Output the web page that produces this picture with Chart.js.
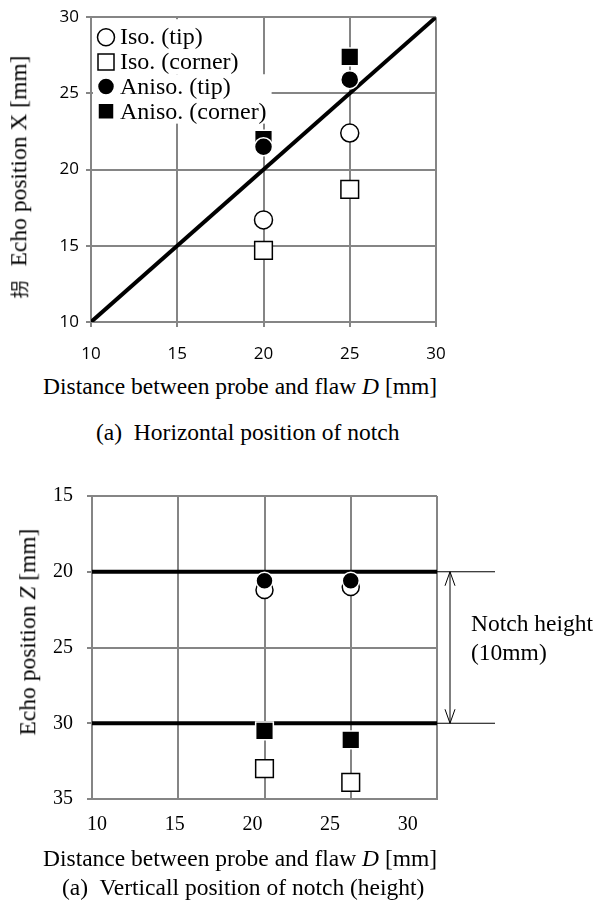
<!DOCTYPE html>
<html>
<head>
<meta charset="utf-8">
<script src="https://cdn.jsdelivr.net/npm/chart.js@4.4.0/dist/chart.umd.min.js"></script>
<style>
  body { margin: 0; background: #fff; }
  #wrap { position: relative; width: 594px; height: 903px; overflow: hidden; background: #fff;
          font-family: "Liberation Serif", "Times New Roman", serif; color: #000; }
  canvas { position: absolute; left: 0; }
  .t { position: absolute; white-space: nowrap; font-size: 23.5px; line-height: 1; }
  .vt { transform: translate(-50%, -50%) rotate(-90deg); }
  .cjk { font-family: "Noto Sans CJK JP", sans-serif; font-size: 18px; margin-right: 14px; }
</style>
</head>
<body>
<div id="wrap">
  <canvas id="c1" width="594" height="370" style="top:0"></canvas>
  <canvas id="c2" width="594" height="380" style="top:470px"></canvas>

  <div class="t vt" style="left:19px;top:177px"><span class="cjk">拐</span>Echo position X [mm]</div>
  <div class="t" style="left:43px;top:375px">Distance between probe and flaw <i>D</i> [mm]</div>
  <div class="t" style="left:96px;top:421px">(a)&nbsp; Horizontal position of notch</div>

  <div class="t vt" style="left:28px;top:632px">Echo position <i>Z</i> [mm]</div>
  <div class="t" style="left:471px;top:612px">Notch height</div>
  <div class="t" style="left:471px;top:641px">(10mm)</div>
  <div class="t" style="left:43px;top:847px">Distance between probe and flaw <i>D</i> [mm]</div>
  <div class="t" style="left:62px;top:876px">(a)&nbsp; Verticall position of notch (height)</div>
</div>

<script>
// ---- data ----
const seriesLabels = ["Iso. (tip)", "Iso. (corner)", "Aniso. (tip)", "Aniso. (corner)"];
const distances = [20, 25];
const xTicks = [10, 15, 20, 25, 30];

// (top) horizontal echo position X
const xIsoTip = [16.7, 22.4];
const xIsoCorner = [14.7, 18.7];
const xAnisoTip = [21.5, 25.9];
const xAnisoCorner = [22.0, 27.4];
const idealLine = [10, 30];          // X = D
const yTicksTop = [10, 15, 20, 25, 30];

// (bottom) vertical echo position Z
const zIsoTip = [21.2, 21.0];
const zIsoCorner = [33.0, 33.9];
const zAnisoTip = [20.6, 20.6];
const zAnisoCorner = [30.5, 31.1];
const notchTop = 20;
const notchBottom = 30;
const yTicksBottom = [15, 20, 25, 30, 35];

const gridColor = "#858585";

function pts(ys) {
  return distances.map((d, i) => ({ x: d, y: ys[i] }));
}

function marker(label, ys, style, fill, edge, r, order) {
  return {
    label: label,
    data: pts(ys),
    pointStyle: style,
    pointRadius: r,
    pointBackgroundColor: fill,
    pointBorderColor: edge,
    pointBorderWidth: 1.5,
    showLine: false,
    inLegend: true,
    order: order
  };
}

function hline(v, ends) {
  return {
    label: "",
    data: ends.map(x => ({ x: x, y: v })),
    showLine: true,
    borderColor: "#000",
    borderWidth: 4,
    pointRadius: 0,
    order: 10
  };
}

const fixedTicks = arr => scale => { scale.ticks = arr.map(v => ({ value: v })); };

// legend drawn inside the plot, top left, on white blocks
const insideLegend = {
  id: "insideLegend",
  afterDraw(chart) {
    const ctx = chart.ctx;
    const a = chart.chartArea;
    const sets = chart.data.datasets.filter(d => d.inLegend);
    const rowH = 24.7;
    const y0 = a.top + 20;
    const mx = a.left + 15;
    const tx = a.left + 29;
    ctx.save();
    ctx.font = '24px "Liberation Serif", serif';
    for (let p = 0; p < sets.length; p += 2) {
      const w = Math.max(...sets.slice(p, p + 2).map(d => ctx.measureText(d.label).width));
      const top = p === 0 ? a.top + 2 : y0 + (p - 0.5) * rowH;
      const bot = y0 + (p + 1.5) * rowH;
      ctx.fillStyle = "#fff";
      ctx.fillRect(a.left + 2, top, tx - a.left + w + 3, bot - top);
    }
    sets.forEach((d, i) => {
      const y = y0 + i * rowH;
      ctx.fillStyle = d.pointBackgroundColor;
      ctx.strokeStyle = d.pointBorderColor;
      ctx.lineWidth = 1.5;
      ctx.beginPath();
      if (d.pointStyle === "circle") {
        ctx.arc(mx, y, 8.5, 0, Math.PI * 2);
      } else {
        ctx.rect(mx - 8, y - 8, 16, 16);
      }
      ctx.fill();
      ctx.stroke();
      ctx.fillStyle = "#000";
      ctx.textBaseline = "middle";
      ctx.fillText(d.label, tx, y + 1);
    });
    ctx.restore();
  }
};

// thin extension lines and double arrow for the notch height
const notchArrow = {
  id: "notchArrow",
  afterDraw(chart) {
    const ctx = chart.ctx;
    const a = chart.chartArea;
    const y = chart.scales.y;
    const yt = y.getPixelForValue(notchTop);
    const yb = y.getPixelForValue(notchBottom);
    const ax = a.right + 13;
    ctx.save();
    ctx.strokeStyle = "#000";
    ctx.lineWidth = 1;
    [yt, yb].forEach(p => {
      ctx.beginPath();
      ctx.moveTo(a.right, p);
      ctx.lineTo(a.right + 58, p);
      ctx.stroke();
    });
    ctx.beginPath();
    ctx.moveTo(ax, yt);
    ctx.lineTo(ax, yb);
    ctx.moveTo(ax - 5, yt + 14);
    ctx.lineTo(ax, yt);
    ctx.lineTo(ax + 5, yt + 14);
    ctx.moveTo(ax - 5, yb - 14);
    ctx.lineTo(ax, yb);
    ctx.lineTo(ax + 5, yb - 14);
    ctx.stroke();
    ctx.restore();
  }
};

const sansTick = { family: "Open Sans", size: 17 };
const serifTick = { family: "Liberation Serif", size: 20 };

new Chart(document.getElementById("c1"), {
  type: "scatter",
  data: {
    datasets: [
      marker(seriesLabels[0], xIsoTip, "circle", "#fff", "#000", 9, 0),
      marker(seriesLabels[1], xIsoCorner, "rect", "#fff", "#000", 12.5, 0),
      marker(seriesLabels[2], xAnisoTip, "circle", "#000", "#fff", 9, 0),
      marker(seriesLabels[3], xAnisoCorner, "rect", "#000", "#fff", 12.5, 0),
      {
        label: "",
        data: idealLine.map(v => ({ x: v, y: v })),
        showLine: true,
        borderColor: "#000",
        borderWidth: 4,
        pointRadius: 0,
        order: 10
      }
    ]
  },
  options: {
    responsive: false,
    animation: false,
    events: [],
    layout: { padding: { top: 13, right: 158, left: 0, bottom: 0 } },
    plugins: { legend: { display: false }, tooltip: { enabled: false } },
    scales: {
      x: {
        type: "linear", min: 10, max: 30,
        afterBuildTicks: fixedTicks(xTicks),
        afterFit: s => { s.height = 48; },
        grid: { color: gridColor, lineWidth: 2, tickLength: 5 },
        border: { color: gridColor, width: 2 },
        ticks: { font: sansTick, color: "#000", padding: 17 }
      },
      y: {
        type: "linear", min: 10, max: 30,
        afterBuildTicks: fixedTicks(yTicksTop),
        afterFit: s => { s.width = 91; },
        grid: { color: gridColor, lineWidth: 2, tickLength: 5 },
        border: { color: gridColor, width: 2 },
        ticks: { font: sansTick, color: "#000", padding: 7 }
      }
    }
  },
  plugins: [insideLegend]
});

new Chart(document.getElementById("c2"), {
  type: "scatter",
  data: {
    datasets: [
      marker(seriesLabels[0], zIsoTip, "circle", "#fff", "#000", 8.5, 2),
      marker(seriesLabels[1], zIsoCorner, "rect", "#fff", "#000", 12.5, 3),
      marker(seriesLabels[2], zAnisoTip, "circle", "#000", "#fff", 8.5, 0),
      marker(seriesLabels[3], zAnisoCorner, "rect", "#000", "#fff", 12.5, 1),
      hline(notchTop, [10, 30]),
      hline(notchBottom, [10, 30])
    ]
  },
  options: {
    responsive: false,
    animation: false,
    events: [],
    layout: { padding: { top: 21, right: 157, left: 0, bottom: 0 } },
    plugins: { legend: { display: false }, tooltip: { enabled: false } },
    scales: {
      x: {
        type: "linear", min: 10, max: 30, position: "bottom", weight: 0,
        afterBuildTicks: fixedTicks(xTicks),
        afterFit: s => { s.height = 0; },
        grid: { color: gridColor, lineWidth: 2, drawTicks: false },
        border: { color: gridColor, width: 2 },
        ticks: { display: false }
      },
      xl: {
        type: "linear", min: 9.68, max: 31.88, position: "bottom", weight: 1,
        afterBuildTicks: fixedTicks(xTicks),
        afterFit: s => { s.height = 51; },
        grid: { display: false, drawTicks: false },
        border: { display: false },
        ticks: { font: serifTick, color: "#000", padding: 14 }
      },
      y: {
        type: "linear", min: 15, max: 35, reverse: true,
        afterBuildTicks: fixedTicks(yTicksBottom),
        afterFit: s => { s.width = 92; },
        grid: { color: gridColor, lineWidth: 2, tickLength: 5 },
        border: { color: gridColor, width: 2 },
        ticks: { font: serifTick, color: "#000", padding: 14 }
      }
    }
  },
  plugins: [notchArrow]
});
</script>
</body>
</html>
